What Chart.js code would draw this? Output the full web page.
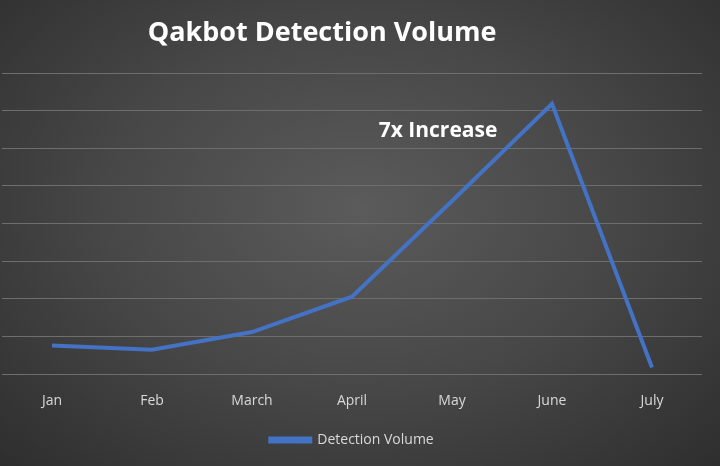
<!DOCTYPE html>
<html><head>
<script src="https://cdn.jsdelivr.net/npm/chart.js"></script>
<style>
html,body{margin:0;padding:0;}
body{width:720px;height:466px;background:radial-gradient(ellipse at 50% 45%,#5b5b5b 0%,#474747 50%,#2e2e2e 100%);}
#wrap{width:720px;height:466px;}
</style></head><body>
<div id="wrap"><canvas id="c"></canvas></div>
<script>
const categories=["Jan","Feb","March","April","May","June","July"];
const detectionVolume=[0.76,0.65,1.12,2.06,4.6,7.18,0.18];
const titleText="Qakbot Detection Volume";
const annotationText="7x Increase";
const textPlugin={id:'txt',afterDraw(ch){const c=ch.ctx;c.save();c.fillStyle='#ffffff';c.textAlign='center';c.textBaseline='middle';
c.font='bold 27px "Open Sans"';c.fillText(titleText,322,33);
c.font='bold 21px "Open Sans"';c.fillText(annotationText,438,131);c.restore();}};
new Chart(document.getElementById('c'),{type:'line',
data:{labels:categories,datasets:[{label:'Detection Volume',data:detectionVolume,borderColor:'#4472C4',backgroundColor:'#4472C4',borderWidth:4,pointRadius:0,tension:0}]},
options:{responsive:true,maintainAspectRatio:false,animation:false,
layout:{padding:{top:73,left:2,right:18,bottom:9}},
scales:{x:{offset:true,grid:{display:false},border:{display:false},ticks:{color:'#d9d9d9',font:{size:14,family:'Open Sans'},padding:10}},
y:{min:0,max:8,ticks:{display:false,stepSize:1},grid:{color:'#6e6e6e',drawTicks:false},border:{display:false}}},
plugins:{legend:{position:'bottom',labels:{color:'#d9d9d9',font:{size:14,family:'Open Sans'},boxWidth:40,boxHeight:3,padding:14}},tooltip:{enabled:false}}},
plugins:[textPlugin]});
</script></body></html>
